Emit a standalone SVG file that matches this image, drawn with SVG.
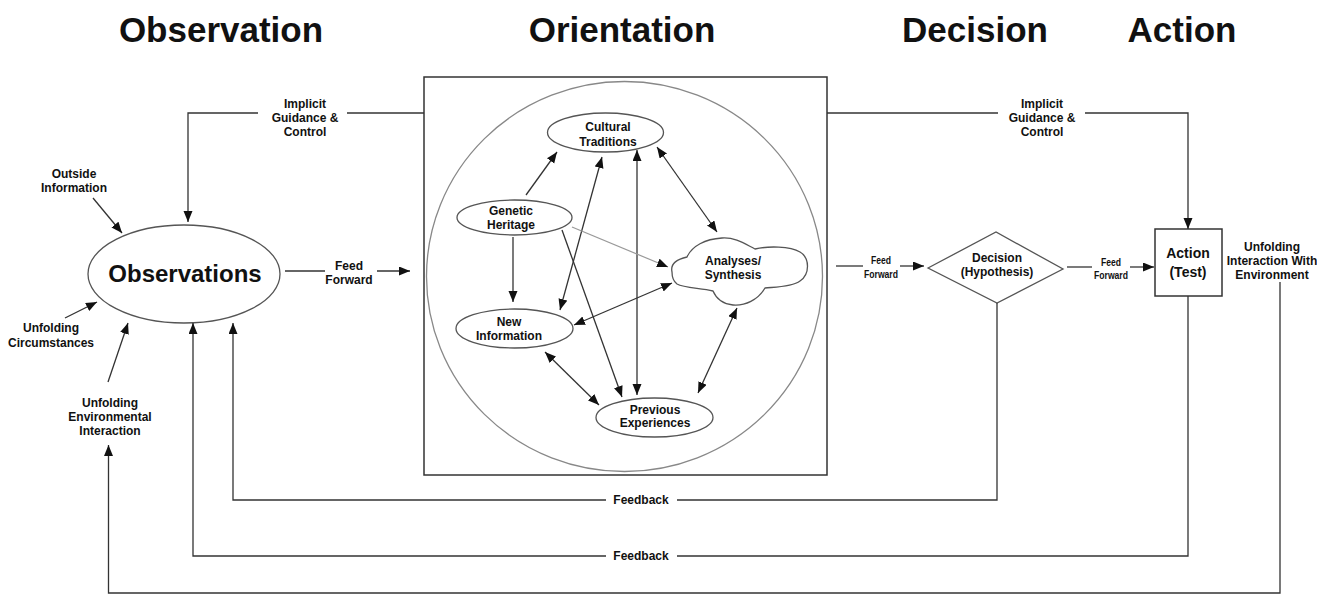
<svg xmlns="http://www.w3.org/2000/svg" width="1317" height="595" viewBox="0 0 1317 595">
<style>
.bg{fill:#ffffff}
.title{font-family:"Liberation Sans",Arial,sans-serif;font-weight:bold;font-size:35px;fill:#111;text-anchor:middle}
.lbl{font-family:"Liberation Sans",Arial,sans-serif;font-weight:bold;font-size:12px;fill:#111;text-anchor:middle}
.big{font-family:"Liberation Sans",Arial,sans-serif;font-weight:bold;font-size:24px;fill:#111;text-anchor:middle}
.mid{font-family:"Liberation Sans",Arial,sans-serif;font-weight:bold;font-size:14px;fill:#111;text-anchor:middle}
.sm{font-family:"Liberation Sans",Arial,sans-serif;font-weight:bold;font-size:11px;fill:#111;text-anchor:middle}
.shape{fill:none;stroke:#555;stroke-width:1.3}
.box{fill:none;stroke:#333;stroke-width:1.5}
.ln{fill:none;stroke:#333;stroke-width:1.3}
.lt{fill:none;stroke:#999;stroke-width:1.2}
</style>
<defs>
<marker id="arr" markerUnits="userSpaceOnUse" markerWidth="12" markerHeight="10" refX="11" refY="4.5" orient="auto-start-reverse">
<path d="M0,0 L11,4.5 L0,9 Z" fill="#111"/>
</marker>
</defs>
<rect class="bg" x="0" y="0" width="1317" height="595"/>

<g id="titles">
<text class="title" x="221" y="41.5">Observation</text>
<text class="title" x="622" y="41.5">Orientation</text>
<text class="title" x="975" y="41.5">Decision</text>
<text class="title" x="1182" y="41.5">Action</text>
</g>

<g id="orientation-frame">
<rect class="box" x="424" y="77" width="403" height="398"/>
<ellipse cx="624.5" cy="276.5" rx="198" ry="195" fill="none" stroke="#888" stroke-width="1.3"/>
</g>

<g id="observations">
<ellipse class="shape" cx="184" cy="274" rx="96" ry="49"/>
<text class="big" x="185" y="282">Observations</text>
</g>

<g id="cultural-traditions">
<ellipse class="shape" cx="605.5" cy="132.5" rx="58" ry="19.5"/>
<text class="lbl" x="608" y="131">Cultural</text>
<text class="lbl" x="608" y="145.5">Traditions</text>
</g>

<g id="genetic-heritage">
<ellipse class="shape" cx="514.5" cy="217.5" rx="57.5" ry="17.5"/>
<text class="lbl" x="511" y="215">Genetic</text>
<text class="lbl" x="511" y="228.5">Heritage</text>
</g>

<g id="new-information">
<ellipse class="shape" cx="514.5" cy="328.5" rx="58.5" ry="19.5"/>
<text class="lbl" x="509" y="326">New</text>
<text class="lbl" x="509" y="339.5">Information</text>
</g>

<g id="previous-experiences">
<ellipse class="shape" cx="654.5" cy="417.5" rx="58.5" ry="19.5"/>
<text class="lbl" x="655" y="413.5">Previous</text>
<text class="lbl" x="655" y="427">Experiences</text>
</g>

<g id="analyses-synthesis">
<path class="shape" d="M672,272 C670,263 678,259 687,257 C692,246 705,239 722,238 C735,237 745,244 755,249 C768,246 790,246 800,252 C810,258 810,274 800,281 C792,287 775,287 765,288 C758,300 745,306 733,305 C722,304 716,298 713,291 C700,288 684,288 677,284 C673,281 672,277 672,272 Z"/>
<text class="lbl" x="733" y="265">Analyses/</text>
<text class="lbl" x="733" y="279">Synthesis</text>
</g>

<g id="decision">
<path class="shape" d="M928,268 L996,232 L1063,269 L997,303 Z"/>
<text class="lbl" x="997" y="262">Decision</text>
<text class="lbl" x="997" y="276">(Hypothesis)</text>
</g>

<g id="action">
<rect class="box" x="1155" y="229" width="67" height="67"/>
<text class="mid" x="1188" y="258">Action</text>
<text class="mid" x="1188" y="277">(Test)</text>
</g>

<g id="labels">
<text class="lbl" x="305" y="107.5">Implicit</text>
<text class="lbl" x="305" y="121.5">Guidance &amp;</text>
<text class="lbl" x="305" y="135.5">Control</text>
<text class="lbl" x="1042" y="108">Implicit</text>
<text class="lbl" x="1042" y="122">Guidance &amp;</text>
<text class="lbl" x="1042" y="136">Control</text>
<text class="lbl" x="74" y="177.5">Outside</text>
<text class="lbl" x="74" y="191.5">Information</text>
<text class="lbl" x="51" y="332">Unfolding</text>
<text class="lbl" x="51" y="346.5">Circumstances</text>
<text class="lbl" x="110" y="407">Unfolding</text>
<text class="lbl" x="110" y="421">Environmental</text>
<text class="lbl" x="110" y="435">Interaction</text>
<text class="lbl" x="349" y="270">Feed</text>
<text class="lbl" x="349" y="284">Forward</text>
<text class="sm" x="881" y="264" textLength="20" lengthAdjust="spacingAndGlyphs">Feed</text>
<text class="sm" x="881" y="278" textLength="34" lengthAdjust="spacingAndGlyphs">Forward</text>
<text class="sm" x="1111" y="265.5" textLength="20" lengthAdjust="spacingAndGlyphs">Feed</text>
<text class="sm" x="1111" y="279" textLength="34" lengthAdjust="spacingAndGlyphs">Forward</text>
<text class="lbl" x="1272" y="250.5">Unfolding</text>
<text class="lbl" x="1272" y="264.5">Interaction With</text>
<text class="lbl" x="1272" y="278.5">Environment</text>
<text class="lbl" x="641" y="503.5">Feedback</text>
<text class="lbl" x="641" y="559.5">Feedback</text>
</g>

<g id="connectors">
<!-- implicit guidance left -->
<path class="ln" d="M424,113 H347"/>
<path class="ln" d="M258,113 H188 V222" marker-end="url(#arr)"/>
<!-- implicit guidance right -->
<path class="ln" d="M827,113 H998"/>
<path class="ln" d="M1085,113 H1188 V229" marker-end="url(#arr)"/>
<!-- inputs to observations -->
<path class="ln" d="M93,198 L122,233" marker-end="url(#arr)"/>
<path class="ln" d="M65,318 L97,302" marker-end="url(#arr)"/>
<path class="ln" d="M108,382 L128,323" marker-end="url(#arr)"/>
<!-- feed forward left -->
<path class="ln" d="M285,271 H325"/>
<path class="ln" d="M377,271 H410" marker-end="url(#arr)"/>
<!-- feed forward middle -->
<path class="ln" d="M836,266 H863"/>
<path class="ln" d="M900,266 H924" marker-end="url(#arr)"/>
<!-- feed forward right -->
<path class="ln" d="M1067,267 H1092"/>
<path class="ln" d="M1130,267 H1154" marker-end="url(#arr)"/>
<!-- inner feedback from decision -->
<path class="ln" d="M997,303 V500 H677"/>
<path class="ln" d="M606,500 H233 V323" marker-end="url(#arr)"/>
<!-- outer feedback from action -->
<path class="ln" d="M1188,296 V556 H677"/>
<path class="ln" d="M606,556 H193 V323" marker-end="url(#arr)"/>
<!-- unfolding interaction with environment -->
<path class="ln" d="M1280,282 V593 H108.5 V445" marker-end="url(#arr)"/>
<!-- orientation internals -->
<path class="ln" d="M526,195 L557,152" marker-end="url(#arr)"/>
<path class="ln" d="M602,157 L560,310" marker-start="url(#arr)" marker-end="url(#arr)"/>
<path class="ln" d="M637,150 L637,395" marker-start="url(#arr)" marker-end="url(#arr)"/>
<path class="ln" d="M657,147 L717,232" marker-start="url(#arr)" marker-end="url(#arr)"/>
<path class="ln" d="M513,237 L513,302" marker-end="url(#arr)"/>
<path class="lt" d="M572,227 L668,267" marker-end="url(#arr)"/>
<path class="ln" d="M562,230 L622,397" marker-end="url(#arr)"/>
<path class="ln" d="M574,325 L672,283" marker-start="url(#arr)" marker-end="url(#arr)"/>
<path class="ln" d="M545,352 L599,405" marker-start="url(#arr)" marker-end="url(#arr)"/>
<path class="ln" d="M737,308 L698,393" marker-start="url(#arr)" marker-end="url(#arr)"/>
</g>
</svg>
